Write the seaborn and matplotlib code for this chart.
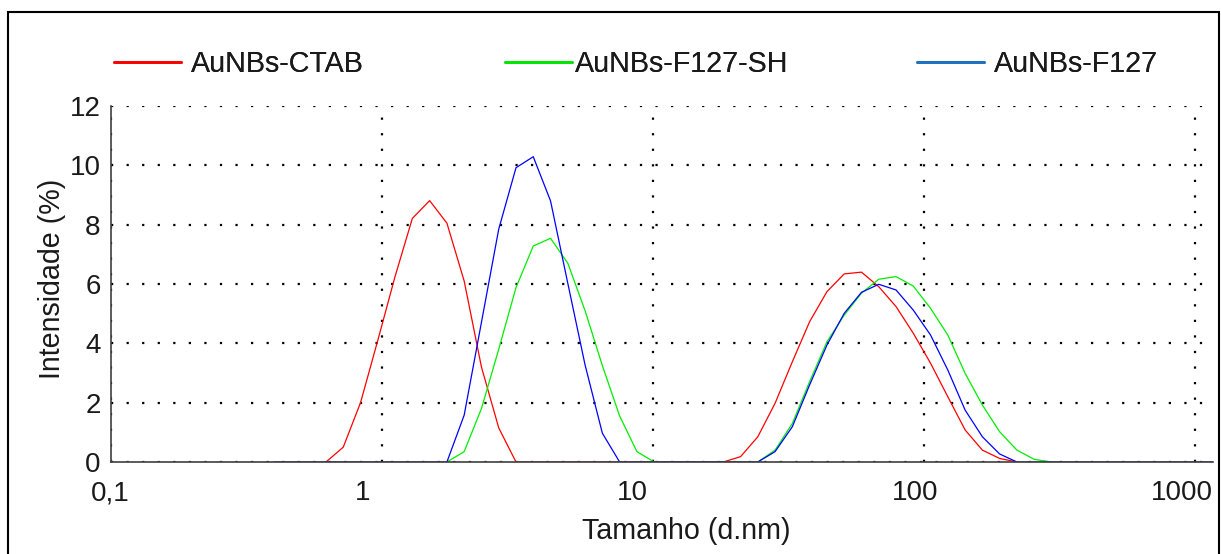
import pandas as pd
import seaborn as sns
import matplotlib.pyplot as plt
import matplotlib.transforms as mtransforms
from matplotlib.lines import Line2D
from matplotlib.patches import Rectangle
from matplotlib.ticker import LogLocator, NullFormatter, MultipleLocator

# size classes (d.nm)
sizes = [0.4, 0.4632, 0.5365, 0.6213, 0.7195, 0.8332, 0.9649, 1.117, 1.294, 1.499,
         1.736, 2.01, 2.328, 2.696, 3.122, 3.615, 4.187, 4.849, 5.615, 6.503,
         7.531, 8.721, 10.1, 11.7, 13.54, 15.69, 18.17, 21.04, 24.36, 28.21,
         32.67, 37.84, 43.82, 50.75, 58.77, 68.06, 78.82, 91.28, 105.7, 122.4,
         141.8, 164.2, 190.1, 220.2, 255.0, 295.3, 342.0, 396.1, 458.7, 531.2,
         615.1, 712.4, 825.0, 955.4, 1106, 1281]

# intensity (%) - CTAB covers sizes[3:44]
ctab = [0, 0.5, 2.0, 4.1, 6.25, 8.21, 8.81, 8.05, 6.1, 3.2, 1.15, 0,
        0, 0, 0, 0, 0, 0, 0, 0, 0, 0, 0, 0,
        0.18, 0.85, 1.98, 3.38, 4.73, 5.74, 6.34, 6.40, 5.91, 5.24, 4.34, 3.33,
        2.20, 1.08, 0.40, 0.12, 0]
# F127-SH covers sizes[10:46]
f127_sh = [0, 0.35, 1.8, 3.8, 5.88, 7.28, 7.54, 6.70, 5.1, 3.25, 1.55, 0.35, 0,
           0, 0, 0, 0, 0, 0,
           0.40, 1.30, 2.71, 4.05, 4.95, 5.69, 6.16, 6.25, 5.93, 5.18, 4.28, 2.99,
           1.92, 1.02, 0.40, 0.09, 0]
# F127 covers all sizes
f127 = [0, 0, 0, 0, 0, 0, 0, 0, 0, 0, 0,
        1.58, 4.71, 7.85, 9.92, 10.29, 8.8, 6.02, 3.27, 0.97, 0,
        0, 0, 0, 0, 0, 0, 0, 0,
        0.35, 1.19, 2.60, 3.94, 5.01, 5.72, 5.99, 5.80, 5.12, 4.28, 3.10, 1.75,
        0.85, 0.27, 0,
        0, 0, 0, 0, 0, 0, 0, 0, 0, 0, 0, 0]

labels = ['AuNBs-CTAB', 'AuNBs-F127-SH', 'AuNBs-F127']
line_colors = ['#ff0000', '#00ee00', '#0000ff']
legend_colors = ['#ff0000', '#00e600', '#1f70c1']
x_ticks = [0.1, 1, 10, 100, 1000]
x_ticklabels = ['0,1', '1', '10', '100', '1000']
x_label_shift = [-1, -19, -21, -9, -13]  # px, labels sit left of their ticks

df = pd.concat([
    pd.DataFrame({'size': sizes[3:44], 'intensity': ctab, 'sample': labels[0]}),
    pd.DataFrame({'size': sizes[10:46], 'intensity': f127_sh, 'sample': labels[1]}),
    pd.DataFrame({'size': sizes, 'intensity': f127, 'sample': labels[2]}),
], ignore_index=True)

sns.set_style('white')
plt.rcParams['font.family'] = ['Liberation Sans', 'DejaVu Sans']

W, H = 1221, 554
fig = plt.figure(figsize=(W / 100, H / 100), dpi=100)
ax = fig.add_axes([111 / W, 92 / H, (1213 - 111) / W, 356 / H])

sns.lineplot(data=df, x='size', y='intensity', hue='sample', hue_order=labels,
             palette=dict(zip(labels, line_colors)), estimator=None, sort=False,
             linewidth=0.9, legend=False, ax=ax)

ax.set_xscale('log')
ax.set_xlim(0.1, 1165)
ax.set_ylim(0, 12)

# dotted grid
ax.grid(which='major', color='black', linestyle=(0, (1, 6)), linewidth=1.6)
ax.set_axisbelow(True)

for s in ['top', 'right']:
    ax.spines[s].set_visible(False)
for s in ['left', 'bottom']:
    ax.spines[s].set_color('#404040')
    ax.spines[s].set_linewidth(1.2)

ax.set_xticks(x_ticks)
ax.set_xticklabels(x_ticklabels)
ax.xaxis.set_minor_locator(LogLocator(base=10, subs=range(2, 10), numticks=20))
ax.xaxis.set_minor_formatter(NullFormatter())
ax.set_yticks(range(0, 13, 2))
ax.yaxis.set_minor_locator(MultipleLocator(1))

ax.tick_params(axis='both', which='both', direction='inout', color='#404040',
               width=1.1, labelcolor='#1a1a1a')
ax.tick_params(axis='x', which='major', length=10, labelsize=20, pad=8)
ax.tick_params(axis='x', which='minor', length=8)
ax.tick_params(axis='y', which='major', length=9, labelsize=20, pad=3)
ax.tick_params(axis='y', which='minor', length=9)

for lab, dx in zip(ax.get_xticklabels(), x_label_shift):
    lab.set_transform(lab.get_transform() +
                      mtransforms.ScaledTranslation(dx / 100, 0, fig.dpi_scale_trans))

ax.set_xlabel('Tamanho (d.nm)', fontsize=20.6, color='#1a1a1a')
ax.set_ylabel('Intensidade (%)', fontsize=20.6, color='#1a1a1a')
ax.xaxis.set_label_coords(0.522, -0.194)
ax.xaxis.label.set_va('center')
ax.yaxis.set_label_coords(-0.0536, 0.515)
ax.yaxis.label.set_va('center')

# legend entries sit at uneven spots in the original, so one legend per entry
legend_x = [114, 505, 917]
legend_pad = [0.35, 0.1, 0.35]
for lab, col, lx, tp in zip(labels, legend_colors, legend_x, legend_pad):
    leg = fig.legend([Line2D([], [], color=col, lw=2)], [lab], loc='center left',
                     bbox_to_anchor=(lx / W, 1 - 64 / H), frameon=False,
                     fontsize=20.6, handlelength=2.34, handletextpad=tp,
                     borderpad=0, borderaxespad=0, labelcolor='#1a1a1a')
    fig.add_artist(leg)

# outer frame
fig.add_artist(Rectangle((8 / W, -0.1), (1219 - 8) / W, 1.1 - 12 / H,
                         transform=fig.transFigure, fill=False, ec='black', lw=1.5))

fig.savefig('out.png', dpi=100)
